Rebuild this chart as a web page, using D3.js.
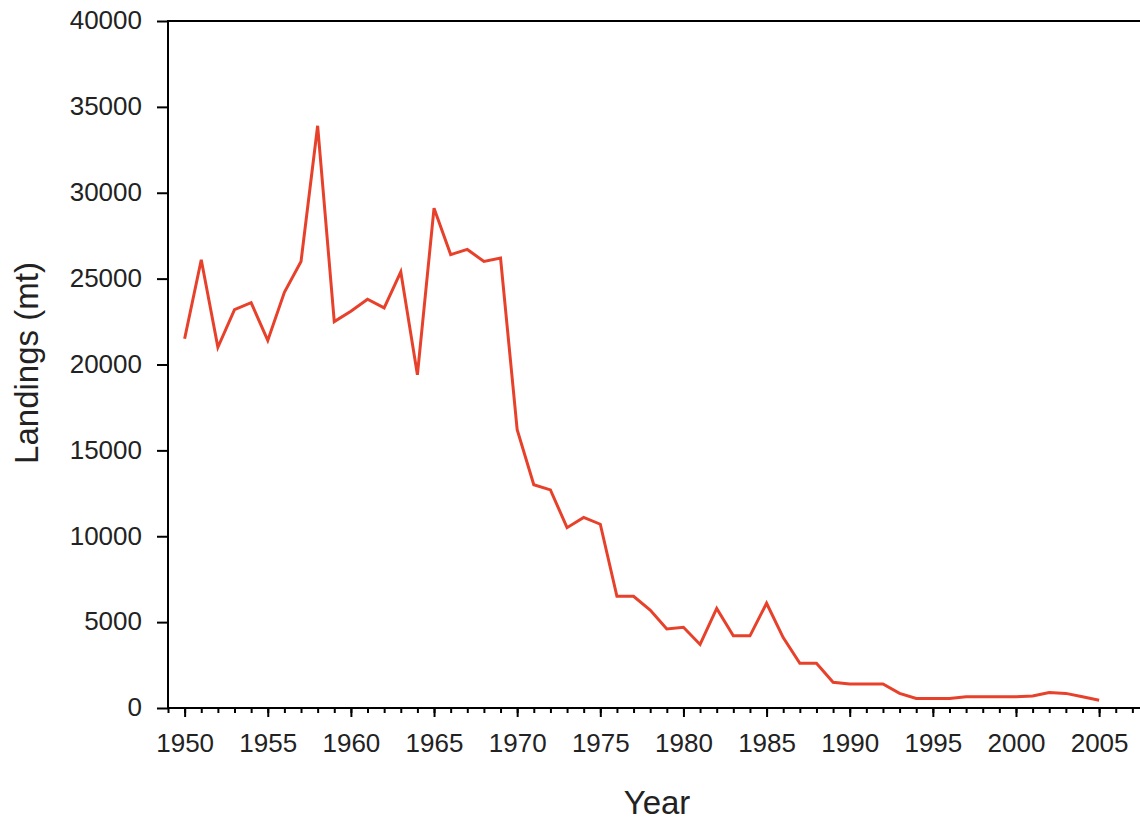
<!DOCTYPE html>
<html>
<head>
<meta charset="utf-8">
<script src="https://cdn.jsdelivr.net/npm/d3@7"></script>
<style>
  html, body { margin: 0; padding: 0; background: #fff; overflow: hidden; }
  svg { display: block; font-family: "Liberation Sans", Arial, sans-serif; }
  .axis path, .axis line { stroke: #000; stroke-width: 2; }
  .axis text { fill: #222; font-size: 26px; }
</style>
</head>
<body>
<svg id="chart" width="1140" height="822"></svg>
<script>
// Landings by year
const years = [1950, 1951, 1952, 1953, 1954, 1955, 1956, 1957, 1958, 1959,
               1960, 1961, 1962, 1963, 1964, 1965, 1966, 1967, 1968, 1969,
               1970, 1971, 1972, 1973, 1974, 1975, 1976, 1977, 1978, 1979,
               1980, 1981, 1982, 1983, 1984, 1985, 1986, 1987, 1988, 1989,
               1990, 1991, 1992, 1993, 1994, 1995, 1996, 1997, 1998, 1999,
               2000, 2001, 2002, 2003, 2004, 2005];
const landings = [21500, 26100, 21000, 23200, 23600, 21400, 24200, 26000, 33900, 22500,
                  23100, 23800, 23300, 25400, 19400, 29100, 26400, 26700, 26000, 26200,
                  16200, 13000, 12700, 10500, 11100, 10700, 6500, 6500, 5700, 4600,
                  4700, 3700, 5800, 4200, 4200, 6100, 4100, 2600, 2600, 1500,
                  1400, 1400, 1400, 850, 550, 550, 550, 650, 650, 650,
                  650, 700, 900, 850, 650, 450];
const xDomain = [1949, 2008];
const yTicks = [0, 5000, 10000, 15000, 20000, 25000, 30000, 35000, 40000];
const majorYears = [1950, 1955, 1960, 1965, 1970, 1975, 1980, 1985, 1990, 1995, 2000, 2005];

const margin = { left: 168, top: 21, bottom: 708, right: 1149 };

const svg = d3.select('#chart');

const x = d3.scaleLinear().domain(xDomain).range([margin.left, margin.right]);
const y = d3.scaleLinear().domain([0, 40000]).range([margin.bottom, margin.top]);

// minor year ticks
svg.append('g')
    .attr('class', 'axis')
    .attr('transform', `translate(0,${margin.bottom})`)
    .call(d3.axisBottom(x).tickValues(d3.range(xDomain[0], xDomain[1] + 1)).tickSize(5).tickFormat(''))
    .call(g => g.select('.domain').remove());

// major year ticks + labels
svg.append('g')
    .attr('class', 'axis')
    .attr('transform', `translate(0,${margin.bottom})`)
    .call(d3.axisBottom(x).tickValues(majorYears).tickSize(9).tickPadding(17).tickFormat(d3.format('d')))
    .call(g => g.select('.domain').remove());

// y axis
svg.append('g')
    .attr('class', 'axis')
    .attr('transform', `translate(${margin.left},0)`)
    .call(d3.axisLeft(y).tickValues(yTicks).tickSize(11).tickPadding(15).tickFormat(d3.format('d')))
    .call(g => g.select('.domain').remove())
    .selectAll('text').attr('dy', '0.3em');

// frame
svg.append('rect')
    .attr('x', margin.left)
    .attr('y', margin.top)
    .attr('width', margin.right - margin.left)
    .attr('height', margin.bottom - margin.top)
    .attr('fill', 'none')
    .attr('stroke', '#000')
    .attr('stroke-width', 2);

// data line
const line = d3.line()
    .x((d, i) => x(years[i]))
    .y(d => y(d));

svg.append('path')
    .datum(landings)
    .attr('d', line)
    .attr('fill', 'none')
    .attr('stroke', '#e8412b')
    .attr('stroke-width', 3)
    .attr('stroke-linejoin', 'miter');

// axis titles
svg.append('text')
    .attr('x', 657)
    .attr('y', 814)
    .attr('text-anchor', 'middle')
    .attr('font-size', 33)
    .attr('fill', '#222')
    .text('Year');

svg.append('text')
    .attr('transform', 'translate(38,363) rotate(-90)')
    .attr('text-anchor', 'middle')
    .attr('font-size', 33)
    .attr('fill', '#222')
    .text('Landings (mt)');
</script>
</body>
</html>
